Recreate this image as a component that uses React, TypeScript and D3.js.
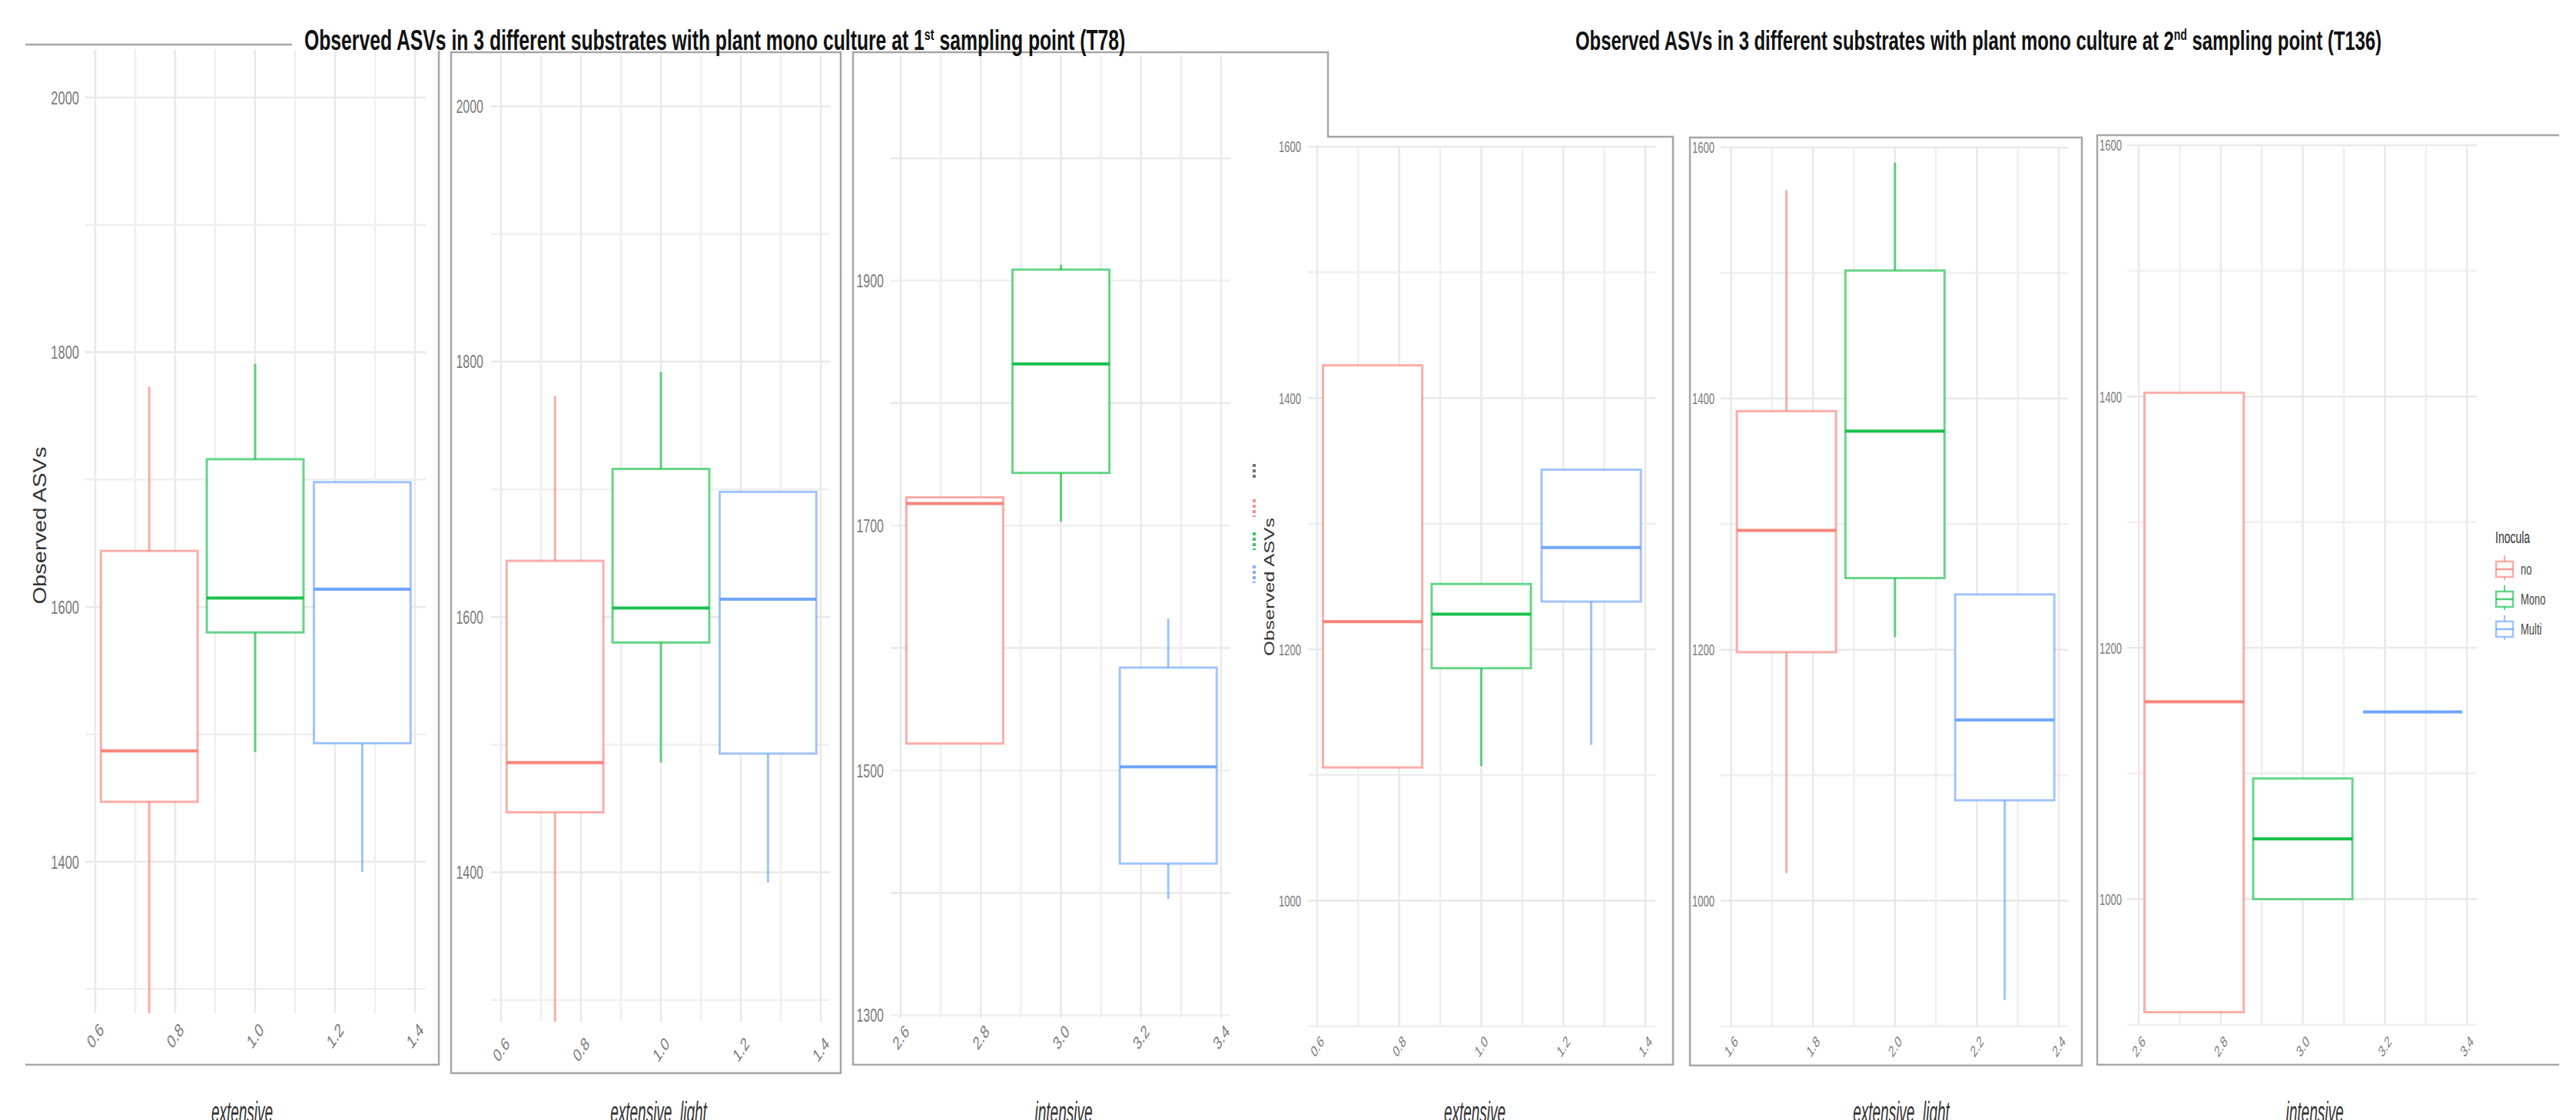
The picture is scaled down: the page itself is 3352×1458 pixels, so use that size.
import React, { useLayoutEffect, useRef, useState } from "react";
import * as d3 from "d3";

// groups and colours (ggplot defaults)
const inocula = ["no", "Mono", "Multi"];
const inoculaColors = ["#F8766D", "#00BA38", "#619CFF"];
const dodge = [-0.265, 0, 0.268];
const boxWidth = 0.242;

// box stats per inoculum: [lower whisker, q1, median, q3, upper whisker]
const t78Extensive = [
  [1270, 1447, 1487, 1644, 1773],
  [1486, 1580, 1607, 1716, 1791],
  [1392, 1493, 1614, 1698, 1698]
];
const t78ExtensiveLight = [
  [1270, 1447, 1486, 1644, 1773],
  [1486, 1580, 1607, 1716, 1792],
  [1392, 1493, 1614, 1698, 1698]
];
const t78Intensive = [
  [1522, 1522, 1718, 1723, 1723],
  [1703, 1743, 1832, 1909, 1913],
  [1395, 1424, 1503, 1584, 1624]
];
const t136Extensive = [
  [1106, 1106, 1222, 1426, 1426],
  [1107, 1185, 1228, 1252, 1252],
  [1124, 1238, 1281, 1343, 1343]
];
const t136ExtensiveLight = [
  [1022, 1198, 1295, 1390, 1566],
  [1210, 1257, 1374, 1502, 1588],
  [921, 1080, 1144, 1244, 1244]
];
const t136Intensive = [
  [910, 910, 1157, 1403, 1403],
  [1000, 1000, 1048, 1096, 1096],
  [1149, 1149, 1149, 1149, 1149]
];

const xTicksA = [0.6, 0.8, 1.0, 1.2, 1.4];
const xTicksB = [1.6, 1.8, 2.0, 2.2, 2.4];
const xTicksC = [2.6, 2.8, 3.0, 3.2, 3.4];
const yTicks78 = [1400, 1600, 1800, 2000];
const yTicks78i = [1300, 1500, 1700, 1900];
const yTicks136 = [1000, 1200, 1400, 1600];

const title1 = ["Observed ASVs in 3 different substrates with plant mono culture at 1", "st", " sampling point (T78)"];
const title2 = ["Observed ASVs in 3 different substrates with plant mono culture at 2", "nd", " sampling point (T136)"];

const panels = [
  { id: "p1", data: t78Extensive, center: 1, xTicks: xTicksA, yTicks: yTicks78, yDomain: [1281, 2038], xRange: [124, 540], plot: { x0: 111, x1: 554, y0: 64, y1: 1319 }, yLabX: 103, xLabY: 1348, xTitle: "extensive", xTitleX: 315, tf: 16.5, sy: 1.5, yTitle: { x: 60, y: 684, size: 24, len: 205 } },
  { id: "p2", data: t78ExtensiveLight, center: 1, xTicks: xTicksA, yTicks: yTicks78, yDomain: [1283, 2040], xRange: [652, 1068], plot: { x0: 639, x1: 1080, y0: 72, y1: 1330 }, yLabX: 629, xLabY: 1366, xTitle: "extensive_light", xTitleX: 857, tf: 16, sy: 1.5 },
  { id: "p3", data: t78Intensive, center: 3, xTicks: xTicksC, yTicks: yTicks78i, yDomain: [1298, 2084], xRange: [1172, 1589], plot: { x0: 1159, x1: 1601, y0: 72, y1: 1325 }, yLabX: 1150, xLabY: 1350, xTitle: "intensive", xTitleX: 1384, tf: 16, sy: 1.5 },
  { id: "p4", data: t136Extensive, center: 1, xTicks: xTicksA, yTicks: yTicks136, yDomain: [900, 1600], xRange: [1714, 2141], plot: { x0: 1702, x1: 2154, y0: 191, y1: 1336 }, yLabX: 1693, xLabY: 1362, xTitle: "extensive", xTitleX: 1919, tf: 13, sy: 1.6, yTitle: { x: 1658, y: 764, size: 19, len: 180 } },
  { id: "p5", data: t136ExtensiveLight, center: 2, xTicks: xTicksB, yTicks: yTicks136, yDomain: [900, 1600], xRange: [2252.6, 2679], plot: { x0: 2239, x1: 2691, y0: 192, y1: 1336 }, yLabX: 2231, xLabY: 1362, xTitle: "extensive_light", xTitleX: 2474, tf: 13, sy: 1.6 },
  { id: "p6", data: t136Intensive, center: 3, xTicks: xTicksC, yTicks: yTicks136, yDomain: [900, 1600], xRange: [2783, 3210], plot: { x0: 2768, x1: 3223, y0: 189, y1: 1334 }, yLabX: 2761, xLabY: 1362, xTitle: "intensive", xTitleX: 3012, tf: 13, sy: 1.6 }
];

const font = "'Liberation Sans', Arial, sans-serif";

function Panel({ p }: { p: any }) {
  const first = p.xTicks[0];
  const last = p.xTicks[p.xTicks.length - 1];
  const x = d3.scaleLinear().domain([first, last]).range(p.xRange);
  const y = d3.scaleLinear().domain(p.yDomain).range([p.plot.y1, p.plot.y0]);
  const vGrid = d3.range(Math.round(first * 10), Math.round(last * 10) + 1).map((d) => d / 10);
  const hGrid = d3.range(Math.ceil(p.yDomain[0] / 100) * 100, p.yDomain[1] + 1, 100);

  return (
    <g>
      <clipPath id={`clip-${p.id}`}>
        <rect x={p.plot.x0} y={p.plot.y0} width={p.plot.x1 - p.plot.x0} height={p.plot.y1 - p.plot.y0} />
      </clipPath>
      {hGrid.map((v) => (
        <line key={`h${v}`} x1={p.plot.x0} x2={p.plot.x1} y1={y(v)} y2={y(v)} stroke={v % 200 === 0 ? "#e9e9e9" : "#efefef"} strokeWidth={2.5} />
      ))}
      {vGrid.map((v, i) => (
        <line key={`v${i}`} x1={x(v)} x2={x(v)} y1={p.plot.y0} y2={p.plot.y1} stroke={i % 2 === 0 ? "#e9e9e9" : "#efefef"} strokeWidth={2.5} />
      ))}
      <g clipPath={`url(#clip-${p.id})`}>
        {p.data.map((s: number[], i: number) => {
          const cx = p.center + dodge[i];
          const xl = x(cx - boxWidth / 2);
          const xr = x(cx + boxWidth / 2);
          const c = inoculaColors[i];
          return (
            <g key={inocula[i]}>
              <line x1={x(cx)} x2={x(cx)} y1={y(s[0])} y2={y(s[1])} stroke={c} strokeOpacity={0.6} strokeWidth={3} />
              <line x1={x(cx)} x2={x(cx)} y1={y(s[3])} y2={y(s[4])} stroke={c} strokeOpacity={0.6} strokeWidth={3} />
              {s[3] > s[1] && (
                <rect x={xl} y={y(s[3])} width={xr - xl} height={y(s[1]) - y(s[3])} fill="white" stroke={c} strokeOpacity={0.6} strokeWidth={3} />
              )}
              <line x1={xl} x2={xr} y1={y(s[2])} y2={y(s[2])} stroke={c} strokeOpacity={0.9} strokeWidth={4} />
            </g>
          );
        })}
      </g>
      {p.yTicks.map((v: number) => (
        <g key={`yl${v}`} transform={`translate(${p.yLabX},${y(v)}) scale(1,${p.sy})`}>
          <text dy="0.36em" textAnchor="end" fontFamily={font} fontSize={p.tf} fill="#7a7a7a">{v}</text>
        </g>
      ))}
      {p.xTicks.map((v: number) => (
        <g key={`xl${v}`} transform={`translate(${x(v)},${p.xLabY}) scale(1,${p.sy}) rotate(-45)`}>
          <text dy="0.36em" textAnchor="middle" fontFamily={font} fontSize={p.tf} fill="#7a7a7a">{v.toFixed(1)}</text>
        </g>
      ))}
      <g transform={`translate(${p.xTitleX},1461) scale(1,2)`}>
        <text textAnchor="middle" fontFamily={font} fontStyle="italic" fontSize={19} fill="#333">{p.xTitle}</text>
      </g>
      {p.yTitle && (
        <text transform={`translate(${p.yTitle.x},${p.yTitle.y}) rotate(-90)`} textAnchor="middle" fontFamily={font} fontSize={p.yTitle.size} textLength={p.yTitle.len} lengthAdjust="spacingAndGlyphs" fill="#333">Observed ASVs</text>
      )}
    </g>
  );
}

// condensed bold title, squeezed uniformly to the measured width
function Title({ parts, x0, x1 }: { parts: string[]; x0: number; x1: number }) {
  const ref = useRef<SVGTextElement>(null);
  const [k, setK] = useState(0.6);
  useLayoutEffect(() => {
    if (ref.current) {
      const w = ref.current.getBBox().width;
      if (w > 0) setK((x1 - x0) / w);
    }
  }, []);
  return (
    <g transform={`translate(${x0},65) scale(${k},1)`}>
      <text ref={ref} fontFamily={font} fontWeight={700} fontSize={36} fill="#111" style={{ whiteSpace: "pre" }}>
        <tspan>{parts[0]}</tspan>
        <tspan dy={-13} fontSize={21}>{parts[1]}</tspan>
        <tspan dy={13}>{parts[2]}</tspan>
      </text>
    </g>
  );
}

export default function App() {
  const frame = { fill: "none", stroke: "#a6a6a6", strokeWidth: 2.5 };
  const legendRows = [741, 780, 819];
  const stubKeys = [[604, 622, "#555"], [650, 673, inoculaColors[0]], [693, 716, inoculaColors[1]], [736, 759, inoculaColors[2]]];
  return (
    <svg width={3352} height={1458} style={{ position: "fixed", left: 0, top: 0, background: "white" }}>
      <rect width={3352} height={1458} fill="white" />
      {/* frames of the pasted plots */}
      <path d="M33,58 H571 V1386 H33" {...frame} />
      <rect x={587} y={68} width={507} height={1329} {...frame} />
      <path d="M1110,1386 V68 H1728 V178 H2177 V1386 Z" {...frame} />
      <rect x={2199} y={179} width={510} height={1208} {...frame} />
      <path d="M3330,176 H2729 V1386 H3330" {...frame} />
      {panels.map((p) => (
        <Panel key={p.id} p={p} />
      ))}
      {/* stray legend keys left of 2nd block */}
      {stubKeys.map((k: any, i) => (
        <line key={i} x1={1632} x2={1632} y1={k[0]} y2={k[1]} stroke={k[2]} strokeWidth={4} strokeDasharray="4 3" strokeOpacity={0.8} />
      ))}
      {/* legend */}
      <g transform="translate(3247,707) scale(1,1.6)">
        <text fontFamily={font} fontSize={14} fill="#333">Inocula</text>
      </g>
      {inocula.map((name, i) => (
        <g key={name}>
          <line x1={3259} x2={3259} y1={legendRows[i] - 18} y2={legendRows[i] + 14} stroke={inoculaColors[i]} strokeOpacity={0.6} strokeWidth={2} />
          <rect x={3248} y={legendRows[i] - 10} width={22} height={20} fill="white" stroke={inoculaColors[i]} strokeOpacity={0.6} strokeWidth={2.5} />
          <line x1={3248} x2={3270} y1={legendRows[i]} y2={legendRows[i]} stroke={inoculaColors[i]} strokeOpacity={0.7} strokeWidth={2.5} />
          <g transform={`translate(3280,${legendRows[i]}) scale(1,1.5)`}>
            <text dy="0.36em" fontFamily={font} fontSize={13} fill="#444">{name}</text>
          </g>
        </g>
      ))}
      <rect x={380} y={30} width={1100} height={36} fill="white" />
      <Title parts={title1} x0={396} x1={1464} />
      <Title parts={title2} x0={2050} x1={3099} />
    </svg>
  );
}
